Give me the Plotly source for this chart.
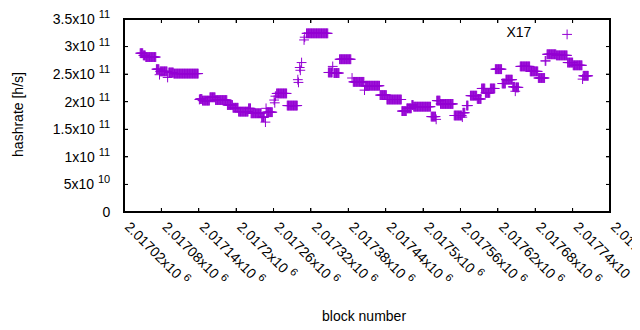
import plotly.graph_objects as go

# Runs of consecutive blocks sharing the same hashrate (hashrate in 1e9 h/s)
run_start = [2017046, 2017051, 2017055, 2017072, 2017077, 2017078, 2017090, 2017092, 2017100,
             2017141, 2017142, 2017146, 2017158, 2017167, 2017186, 2017195, 2017204, 2017220,
             2017224, 2017241, 2017247, 2017248, 2017249, 2017261, 2017262, 2017263, 2017265,
             2017282, 2017299, 2017300, 2017302, 2017303, 2017305, 2017309, 2017310, 2017313,
             2017348, 2017355, 2017357, 2017366, 2017386, 2017388, 2017406, 2017407, 2017431,
             2017442, 2017466, 2017474, 2017482, 2017485, 2017513, 2017521, 2017522, 2017528,
             2017550, 2017563, 2017564, 2017570, 2017576, 2017587, 2017594, 2017600, 2017608,
             2017616, 2017627, 2017633, 2017644, 2017648, 2017649, 2017656, 2017672, 2017685,
             2017696, 2017699, 2017714, 2017732, 2017741, 2017756, 2017757]
run_end = [2017050, 2017054, 2017071, 2017076, 2017077, 2017089, 2017090, 2017099, 2017139,
           2017141, 2017145, 2017157, 2017166, 2017185, 2017194, 2017203, 2017219, 2017223,
           2017240, 2017245, 2017247, 2017248, 2017258, 2017261, 2017262, 2017263, 2017281,
           2017298, 2017299, 2017300, 2017302, 2017303, 2017305, 2017309, 2017310, 2017347,
           2017354, 2017355, 2017365, 2017384, 2017386, 2017405, 2017406, 2017430, 2017441,
           2017465, 2017473, 2017481, 2017484, 2017512, 2017520, 2017521, 2017527, 2017548,
           2017562, 2017563, 2017567, 2017572, 2017586, 2017593, 2017599, 2017607, 2017615,
           2017626, 2017632, 2017643, 2017647, 2017648, 2017653, 2017671, 2017684, 2017695,
           2017697, 2017713, 2017731, 2017740, 2017755, 2017756, 2017765]
run_hashrate_g = [288, 284, 281, 259, 249, 255, 244, 253, 251,
                  204, 205, 202, 208, 203, 194, 189, 182, 188,
                  179, 172, 163, 188, 181, 203, 198, 210, 215,
                  193, 240, 235, 262, 257, 271, 312, 317, 324,
                  253, 264, 252, 277, 243, 236, 221, 229, 212,
                  204, 183, 188, 194, 191, 173, 168, 202, 196,
                  175, 172, 180, 193, 211, 205, 224, 216, 224,
                  259, 233, 240, 227, 219, 226, 264, 255, 243,
                  274, 286, 284, 271, 266, 241, 247]

x_range = [2017020, 2017800]
y_range = [0, 3.5e11]
x_tickvals = [2017020 + 60 * i for i in range(14)]
x_tick_mantissa = ["2.01702", "2.01708", "2.01714", "2.0172", "2.01726", "2.01732", "2.01738",
                   "2.01744", "2.0175", "2.01756", "2.01762", "2.01768", "2.01774", "2.0178"]
x_tick_exponent = ["6"] * 14
y_tickvals = [0, 5e10, 1e11, 1.5e11, 2e11, 2.5e11, 3e11, 3.5e11]
y_tick_mantissa = ["0", "5", "1", "1.5", "2", "2.5", "3", "3.5"]
y_tick_exponent = ["", "10", "11", "11", "11", "11", "11", "11"]


def sci(m, e):
    if not e:
        return m
    return f'{m}x10 <sup><span style="font-size:11px">{e}</span></sup>'


x_ticktext = [sci(m, e) for m, e in zip(x_tick_mantissa, x_tick_exponent)]
y_ticktext = [sci(m, e) for m, e in zip(y_tick_mantissa, y_tick_exponent)]

blocks, rates = [], []
for s, e, v in zip(run_start, run_end, run_hashrate_g):
    for b in range(s, e + 1):
        blocks.append(b)
        rates.append(v * 1e9)

color = "#9400D3"
font = dict(family="Liberation Sans, Arial, sans-serif", size=14, color="black")

L, R, T, B = 116, 30, 11, 118
W, H = 632, 322
pw, ph = W - L - R, H - T - B

# frame and mirrored inside ticks, derived from the axis ranges and tick values
tlx = 4 * (x_range[1] - x_range[0]) / pw
tly = 4 * (y_range[1] - y_range[0]) / ph
frame_x = [x_range[0], x_range[1], x_range[1], x_range[0], x_range[0]]
frame_y = [y_range[0], y_range[0], y_range[1], y_range[1], y_range[0]]
tick_x, tick_y = [], []
for v in x_tickvals:
    tick_x += [v, v, None, v, v, None]
    tick_y += [y_range[0], y_range[0] + tly, None, y_range[1], y_range[1] - tly, None]
for v in y_tickvals:
    tick_x += [x_range[0], x_range[0] + tlx, None, x_range[1], x_range[1] - tlx, None]
    tick_y += [v, v, None, v, v, None]

fig = go.Figure()
fig.add_trace(go.Scatter(
    x=blocks, y=rates, mode="markers", name=" ",
    marker=dict(symbol="cross-thin-open", size=7, color=color,
                line=dict(color=color, width=1)),
))
fig.add_trace(go.Scatter(x=tick_x, y=tick_y, mode="lines", showlegend=False,
                         hoverinfo="skip", line=dict(color="black", width=1)))
fig.add_trace(go.Scatter(x=frame_x, y=frame_y, mode="lines", showlegend=False,
                         hoverinfo="skip", line=dict(color="black", width=2)))

fig.update_layout(
    width=W, height=H,
    margin=dict(l=L, r=R, t=T, b=B, autoexpand=False),
    paper_bgcolor="white", plot_bgcolor="white",
    font=font,
    showlegend=True,
    legend=dict(x=0.972, xanchor="right", y=1.001, yanchor="top",
                bgcolor="rgba(0,0,0,0)", font=font,
                title=dict(text="X17  ", side="left", font=font)),
    xaxis=dict(range=x_range, tickvals=x_tickvals, ticktext=x_ticktext,
               tickangle=45, ticks="inside", ticklen=4, tickcolor="black", tickwidth=1,
               showline=True, linecolor="black", linewidth=1, mirror="ticks",
               showgrid=False, zeroline=False, tickfont=font,
               ticklabeloverflow="allow", ticklabelshift=5),
    yaxis=dict(range=y_range, tickvals=y_tickvals, ticktext=y_ticktext,
               ticks="inside", ticklen=4, tickcolor="black", tickwidth=1,
               showline=True, linecolor="black", linewidth=1, mirror="ticks",
               showgrid=False, zeroline=False, tickfont=font, ticklabelstandoff=10),
    annotations=[
        dict(text="hashrate [h/s]", xref="paper", yref="paper", x=(10 - L) / pw,
             y=0.503, textangle=-90, showarrow=False, font=font,
             xanchor="center", yanchor="middle"),
        dict(text="block number", xref="paper", yref="paper", x=(356 - L) / pw,
             y=(T + ph - 308) / ph, showarrow=False, font=font,
             xanchor="center", yanchor="middle"),
    ],
)

fig.write_html("out.html")
